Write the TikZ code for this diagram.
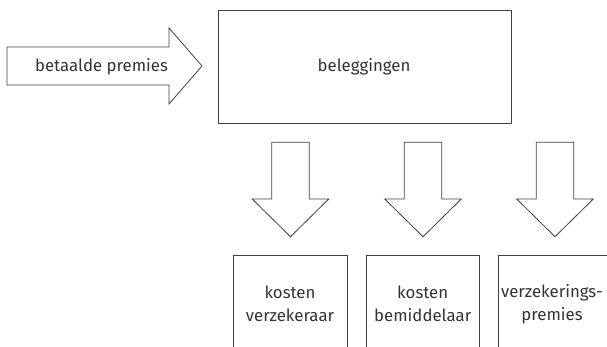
\documentclass[tikz,border=0pt]{standalone}
\usepackage{fontspec}
\setmainfont{Fira Sans}
\begin{document}
\begin{tikzpicture}[x=1pt,y=-1pt,
  line/.style={draw=black!75,line width=0.8pt,line join=miter},
  lbl/.style={text=black!80,font=\fontsize{16.8}{23}\selectfont,align=center,inner sep=0pt}]
\useasboundingbox (0,0) rectangle (607,347);
\clip (0,0) rectangle (607,347);
% big box
\draw[line] (218,10) rectangle (511,123);
\node[lbl] (bel) at (364,67) {beleggingen};
% right arrow
\draw[line] (7,47) -- (169,47) -- (169,28) -- (202,66) -- (169,104) -- (169,85) -- (7,85) -- cycle;
\node[lbl] (bp) at (101.5,67) {betaalde premies};
% down arrows
\foreach \c/\n in {290.5/a1,423/a2,555/a3}{
  \draw[line] (\c-18.8,142.3) -- (\c+18.8,142.3) -- (\c+18.8,199) -- (\c+38.3,199)
     -- (\c,236.7) -- (\c-38.3,199) -- (\c-18.8,199) -- cycle;
}
% open boxes
\draw[line] (233.3,350) -- (233.3,255.7) -- (347,255.7) -- (347,350);
\draw[line] (366,350) -- (366,255.7) -- (479.3,255.7) -- (479.3,350);
\draw[line] (498.3,350) -- (498.3,255.7) -- (610,255.7);
\node[lbl] (k1) at (290,304) {kosten\\verzekeraar};
\node[lbl] (k2) at (422.7,304) {kosten\\bemiddelaar};
\node[lbl] (k3) at (552,304) {verzekerings-\\premies};
\end{tikzpicture}
\end{document}
